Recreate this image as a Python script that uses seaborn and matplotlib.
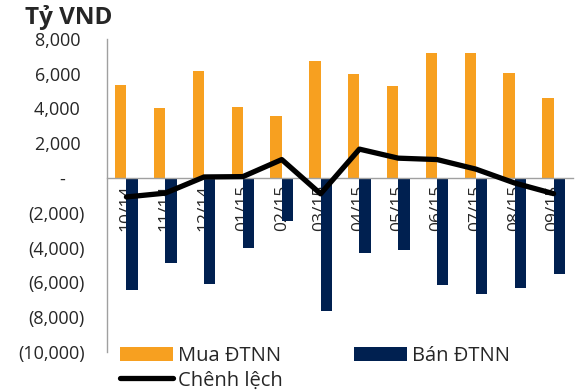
import matplotlib
matplotlib.use("Agg")
import matplotlib.pyplot as plt
import numpy as np
import pandas as pd
import seaborn as sns
from matplotlib.lines import Line2D
from matplotlib.patches import Patch

months = ["10/14", "11/14", "12/14", "01/15", "02/15", "03/15",
          "04/15", "05/15", "06/15", "07/15", "08/15", "09/15"]
mua = [5350, 4000, 6150, 4100, 3580, 6740, 5950, 5260, 7180, 7180, 6030, 4570]
ban = [-6460, -4890, -6090, -4020, -2490, -7670, -4310, -4120, -6130, -6670, -6320, -5500]
chenh_lech = [-1090, -870, 60, 80, 1060, -910, 1660, 1140, 1060, 510, -290, -900]
y_ticks = [8000, 6000, 4000, 2000, 0, -2000, -4000, -6000, -8000, -10000]
y_labels = ["8,000 ", "6,000 ", "4,000 ", "2,000 ", "-    ", "(2,000)", "(4,000)",
            "(6,000)", "(8,000)", "(10,000)"]

ORANGE = "#F7A020"
NAVY = "#002050"

sns.set_style("white")
plt.rcParams["font.family"] = ["Open Sans", "DejaVu Sans"]

df = pd.DataFrame({"month": months, "Mua ĐTNN": mua, "Bán ĐTNN": ban})
long = df.melt(id_vars="month", var_name="series", value_name="value")

fig = plt.figure(figsize=(5.76, 3.91), dpi=100)
ax = fig.add_axes([107 / 576, 1 - 352 / 391, (573 - 107) / 576, (352 - 38.8) / 391])

sns.barplot(data=long, x="month", y="value", hue="series",
            palette=[ORANGE, NAVY], width=0.58, dodge=True, ax=ax,
            legend=False, saturation=1)
for p in ax.patches:
    p.set_linewidth(0)

ax.plot(np.arange(len(months)), chenh_lech, color="black", lw=3.8,
        solid_capstyle="round", zorder=5)

ax.set_xlim(-0.5, len(months) - 0.5)
ax.set_ylim(-10000, 8000)
ax.set_yticks(y_ticks)
ax.set_yticklabels(y_labels)
ax.set_xlabel("")
ax.set_ylabel("")

for s in ["top", "right"]:
    ax.spines[s].set_visible(False)
ax.spines["bottom"].set_position(("data", 0))
ax.spines["bottom"].set_color("#A0A0A0")
ax.spines["left"].set_color("#A0A0A0")
ax.spines["bottom"].set_linewidth(1)
ax.spines["left"].set_linewidth(1)

ax.tick_params(axis="y", length=0, pad=16, labelsize=13)
ax.tick_params(axis="x", length=0, pad=5, labelsize=12.5, labelrotation=90)
for lbl in ax.get_xticklabels():
    lbl.set_zorder(6)

fig.text(25 / 576, 1 - 18 / 391, "Tỷ VND", fontsize=17.5, fontweight="bold",
         va="center", ha="left")

handles = [
    Patch(facecolor=ORANGE, edgecolor="none"),
    Line2D([0], [0], color="black", lw=3.8, solid_capstyle="round"),
    Patch(facecolor=NAVY, edgecolor="none"),
]
labels = ["Mua ĐTNN", "Chênh lệch", "Bán ĐTNN"]
fig.legend(handles, labels, ncol=2, frameon=False, fontsize=14.5,
           loc="upper left", bbox_to_anchor=(108 / 576, 1 - 334 / 391),
           handlelength=2.64, handleheight=0.7, handletextpad=0.25,
           columnspacing=3.5, labelspacing=0.22, borderpad=0.1)

fig.savefig("out.png", dpi=100)
